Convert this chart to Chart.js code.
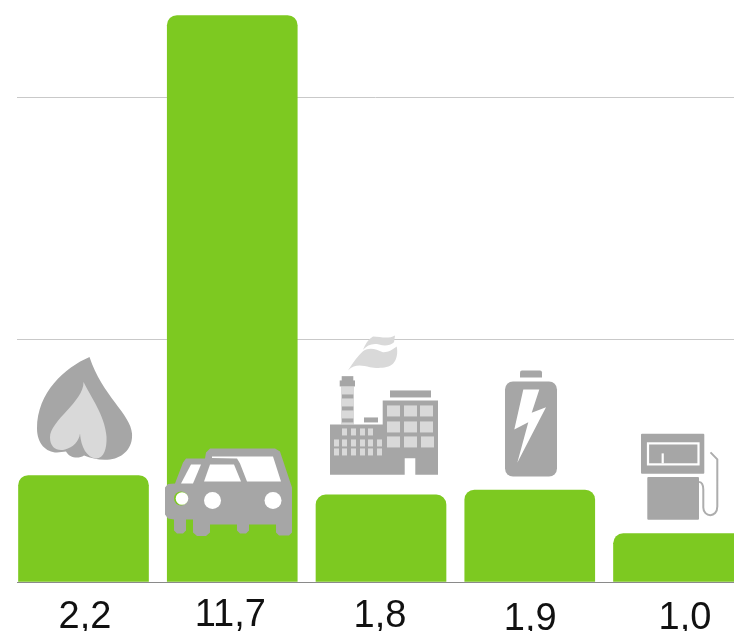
<!DOCTYPE html>
<html>
<head>
<meta charset="utf-8">
<style>
  html, body { margin: 0; padding: 0; background: #fff; overflow: hidden; }
  canvas { display: block; }
</style>
<script src="https://cdn.jsdelivr.net/npm/chart.js@4"></script>
</head>
<body>
<canvas id="chart" width="734" height="631"></canvas>
<script>
  const categories = ["Gas", "Auto", "Industrie", "Batterie", "Tankstelle"];
  const values = [2.2, 11.7, 1.8, 1.9, 1.0];
  const valueLabels = ["2,2", "11,7", "1,8", "1,9", "1,0"];
  const yTicks = [0, 5, 10];

  const GREEN = "#7dc921";
  const DARK = "#a6a6a6";
  const LIGHT = "#d9d9d9";

  function poly(ctx, pts, color) {
    ctx.fillStyle = color;
    ctx.beginPath();
    pts.forEach(([x, y], i) => (i ? ctx.lineTo(x, y) : ctx.moveTo(x, y)));
    ctx.closePath();
    ctx.fill();
  }

  function rects(ctx, list, color) {
    ctx.fillStyle = color;
    list.forEach(([x0, y0, x1, y1]) => ctx.fillRect(x0, y0, x1 - x0, y1 - y0));
  }

  function drawFlame(ctx) {
    ctx.fillStyle = DARK;
    ctx.beginPath();
    ctx.moveTo(89.5, 356.5);
    ctx.bezierCurveTo(65, 367, 37, 392, 37, 428);
    ctx.bezierCurveTo(37, 443, 46, 452, 57, 452);
    ctx.lineTo(66, 451);
    ctx.bezierCurveTo(69, 457, 78, 459, 84, 455);
    ctx.bezierCurveTo(92, 458, 100, 460, 110, 459);
    ctx.bezierCurveTo(124, 457, 133, 447, 132, 433);
    ctx.bezierCurveTo(131, 414, 102, 395, 89.5, 356.5);
    ctx.closePath();
    ctx.fill();

    ctx.fillStyle = LIGHT;
    ctx.beginPath();
    ctx.moveTo(83.5, 381.5);
    ctx.bezierCurveTo(84, 401, 50, 420, 50, 437);
    ctx.bezierCurveTo(50, 447, 57, 451, 65, 449);
    ctx.bezierCurveTo(73, 447, 79, 441, 80, 433);
    ctx.bezierCurveTo(81, 447, 87, 457, 96, 458);
    ctx.bezierCurveTo(104, 458, 107, 448, 106.5, 436);
    ctx.bezierCurveTo(105, 415, 90, 395, 83.5, 381.5);
    ctx.closePath();
    ctx.fill();
  }

  function drawCar(ctx) {
    ctx.fillStyle = DARK;
    ctx.beginPath();
    [
      [205, 458], [206, 452], [210, 448], [275, 448], [280, 451], [292, 487],
      [292, 532], [289, 535], [279, 535], [276, 532], [276, 524], [249, 524],
      [249, 530], [246, 533], [240, 533], [237, 530], [237, 524], [210, 524],
      [210, 532], [206, 535.5], [197, 535.5], [193, 532], [193, 519], [186, 519],
      [186, 530], [183, 533], [177, 533], [174, 530], [174, 519], [168, 518],
      [165, 514], [165, 487], [168, 483.5], [175, 483], [183, 462], [186, 458],
    ].forEach(([x, y], i) => (i ? ctx.lineTo(x, y) : ctx.moveTo(x, y)));
    ctx.closePath();
    ctx.fill();

    poly(ctx, [[191, 464], [201, 464], [193, 483], [181, 483]], "#fff");
    poly(ctx, [[210, 464], [234, 464], [241, 481], [204, 481]], "#fff");
    poly(ctx, [[212, 456], [273, 456], [281, 481], [247, 481], [240, 463], [237, 458], [212, 457.5]], "#fff");

    ctx.fillStyle = GREEN;
    ctx.beginPath();
    ctx.arc(181, 498, 7, 0, Math.PI * 2);
    ctx.fill();
    ctx.fillStyle = "#fff";
    [[182, 498, 6.3], [212.5, 500, 8.5], [273, 500, 8.5]].forEach(([x, y, r]) => {
      ctx.beginPath();
      ctx.arc(x, y, r, 0, Math.PI * 2);
      ctx.fill();
    });
  }

  function drawFactory(ctx) {
    // two wisps of smoke
    ctx.fillStyle = LIGHT;
    ctx.beginPath();
    ctx.moveTo(395, 335);
    ctx.lineTo(394, 341.7);
    ctx.bezierCurveTo(390, 345, 385, 346, 379, 344);
    ctx.bezierCurveTo(372, 342.5, 367, 345, 363, 349.3);
    ctx.bezierCurveTo(365, 344, 368, 339, 373, 336);
    ctx.bezierCurveTo(380, 336, 388, 339, 395, 335);
    ctx.closePath();
    ctx.fill();
    ctx.beginPath();
    ctx.moveTo(348, 370);
    ctx.bezierCurveTo(353, 362, 358, 355, 363, 350.7);
    ctx.bezierCurveTo(370, 346, 376, 349, 383, 351.7);
    ctx.bezierCurveTo(388, 352, 393, 349, 396.7, 346);
    ctx.bezierCurveTo(398, 352, 397, 359, 393, 363.3);
    ctx.bezierCurveTo(388, 368, 377, 368, 370, 366.7);
    ctx.bezierCurveTo(362, 365, 355, 363, 348, 370);
    ctx.closePath();
    ctx.fill();

    rects(ctx, [[341, 386, 354, 424]], LIGHT);
    rects(ctx, [
      [341.7, 375.7, 353.3, 381], [339.7, 380, 355, 386],
      [342, 394, 353.3, 398], [342, 406, 353.3, 410], [342, 418, 353.3, 422],
      [364, 417, 378, 422], [390, 390, 431, 397],
    ], DARK);
    poly(ctx, [
      [330, 424], [382.7, 424], [382.7, 400], [438, 400], [438, 474.3], [415.3, 474.3],
      [415.3, 457.7], [404.7, 457.7], [404.7, 474.3], [330, 474.3],
    ], DARK);

    const big = [];
    [[405, 416], [421, 432]].forEach(([y0, y1]) => {
      [[387, 400], [404, 417], [420, 433]].forEach(([x0, x1]) => big.push([x0, y0, x1, y1]));
    });
    big.push([387, 436, 400, 447], [404, 436, 417, 447], [421, 436, 434, 447]);
    rects(ctx, big, LIGHT);

    const small = [];
    [[342, 347], [351, 356], [360, 365], [368, 373]].forEach(([x0, x1]) => small.push([x0, 428, x1, 435]));
    [[334, 339], [342, 347], [351, 356], [360, 365], [368, 373], [377, 382]].forEach(([x0, x1]) => {
      small.push([x0, 439, x1, 446], [x0, 448, x1, 455]);
    });
    rects(ctx, small, LIGHT);
  }

  function drawBattery(ctx) {
    ctx.fillStyle = DARK;
    ctx.beginPath();
    ctx.roundRect(520, 370, 22, 7, [2, 2, 0, 0]);
    ctx.fill();
    ctx.beginPath();
    ctx.roundRect(505, 381, 52, 95, 8);
    ctx.fill();
    poly(ctx, [
      [523.3, 389], [539.3, 389], [531.7, 412.3], [546, 406.7],
      [517.3, 462.3], [528.3, 421.7], [514.3, 429],
    ], "#fff");
  }

  function drawPump(ctx) {
    ctx.fillStyle = DARK;
    ctx.beginPath();
    ctx.roundRect(641, 433.3, 63.3, 40, 1);
    ctx.roundRect(647.3, 476.7, 51.7, 42.6, 1);
    ctx.fill();

    ctx.strokeStyle = "#fff";
    ctx.lineWidth = 2.2;
    ctx.strokeRect(648, 443, 50.5, 21);
    ctx.beginPath();
    ctx.moveTo(662.7, 463);
    ctx.lineTo(662.7, 453);
    ctx.stroke();

    ctx.strokeStyle = "#adadad";
    ctx.lineWidth = 2;
    ctx.beginPath();
    ctx.moveTo(699, 481.5);
    ctx.bezierCurveTo(702, 482, 703.3, 485, 703.3, 489);
    ctx.lineTo(703.3, 507);
    ctx.bezierCurveTo(703.3, 517, 717.3, 518, 717.3, 506);
    ctx.lineTo(717.3, 459);
    ctx.lineTo(710.5, 452);
    ctx.stroke();
  }

  // icon, plus the bar top (x, y) it was traced against
  const icons = [
    { draw: drawFlame, at: [83.5, 475] },
    { draw: drawCar, at: [232.25, 15] },
    { draw: drawFactory, at: [381, 494.4] },
    { draw: drawBattery, at: [529.75, 489.5] },
    { draw: drawPump, at: [678.5, 533.2] },
  ];

  // the hand placed value labels do not sit on one line
  const labelDx = [1.5, -2, -1, 0.5, 6.5];
  const labelBaseline = [628, 626, 627, 630, 629];

  const decorations = {
    id: "decorations",
    afterDatasetsDraw(chart) {
      const { ctx } = chart;
      const bars = chart.getDatasetMeta(0).data;
      const xScale = chart.scales.x;

      icons.forEach((icon, i) => {
        ctx.save();
        ctx.translate(bars[i].x - icon.at[0], bars[i].y - icon.at[1]);
        icon.draw(ctx);
        ctx.restore();
      });

      ctx.save();
      ctx.font = '38px "Liberation Sans"';
      ctx.fillStyle = "#111";
      ctx.textAlign = "center";
      ctx.textBaseline = "alphabetic";
      valueLabels.forEach((label, i) => {
        ctx.fillText(label, xScale.getPixelForValue(i) + labelDx[i], labelBaseline[i]);
      });
      ctx.restore();
    },
  };

  new Chart(document.getElementById("chart"), {
    type: "bar",
    data: {
      datasets: [
        {
          label: "Werte",
          data: values.map((v, i) => ({ x: i, y: v, name: categories[i] })),
          backgroundColor: GREEN,
          borderWidth: 0,
          borderRadius: { topLeft: 10, topRight: 10, bottomLeft: 0, bottomRight: 0 },
          borderSkipped: false,
          barThickness: 130,
        },
      ],
    },
    options: {
      responsive: false,
      animation: false,
      layout: { padding: { left: 17, right: 0, top: 1, bottom: 49 } },
      plugins: { legend: { display: false }, tooltip: { enabled: false } },
      scales: {
        x: {
          type: "linear",
          offset: false,
          min: -0.4471,
          max: 4.3731,
          grid: { display: false, drawTicks: false },
          border: { display: true, color: "#8a8a8a", width: 1 },
          ticks: { display: false },
        },
        y: {
          min: 0,
          max: 12,
          afterBuildTicks(axis) {
            axis.ticks = yTicks.map((value) => ({ value }));
          },
          grid: { color: "#c9c9c9", lineWidth: 1, drawTicks: false },
          border: { display: false },
          ticks: { display: false },
        },
      },
    },
    plugins: [decorations],
  });
</script>
</body>
</html>
